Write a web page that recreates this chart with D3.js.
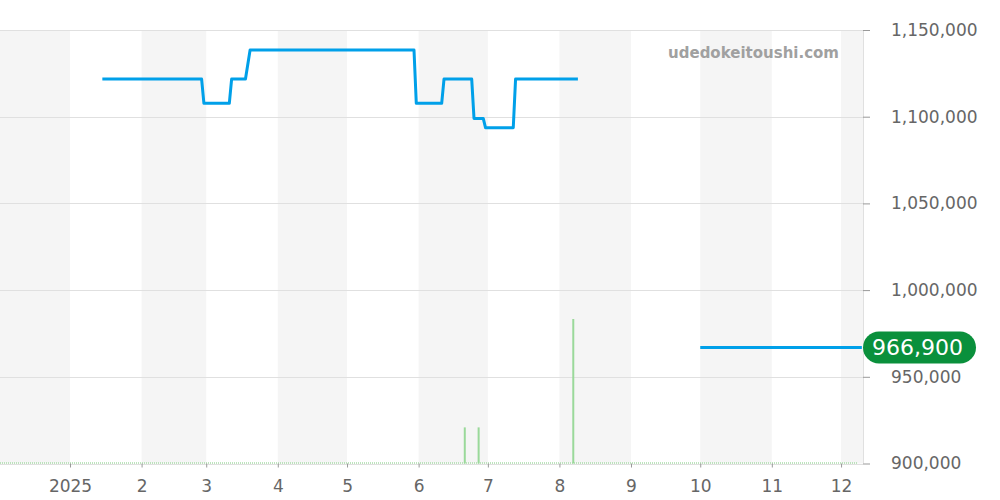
<!DOCTYPE html>
<html>
<head>
<meta charset="utf-8">
<script src="https://cdn.jsdelivr.net/npm/d3@7"></script>
<style>
  body { margin: 0; background: #fff; }
  svg { display: block; font-family: "DejaVu Sans", sans-serif; }
</style>
</head>
<body>
<div id="container"></div>
<script>
// price line (null = no data)
var priceDates = [
  "2025-01-15", "2025-02-27", "2025-02-28", "2025-03-11", "2025-03-12",
  "2025-03-18", "2025-03-20", "2025-05-30", "2025-05-31", "2025-06-11",
  "2025-06-12", "2025-06-24", "2025-06-25", "2025-06-29", "2025-06-30",
  "2025-07-12", "2025-07-13", "2025-08-09",
  "2025-08-10",
  "2025-10-01", "2025-12-10"
];
var priceValues = [
  1121700, 1121700, 1107700, 1107700, 1121700,
  1121700, 1138500, 1138500, 1107700, 1107700,
  1121700, 1121700, 1099000, 1099000, 1093600,
  1093600, 1121700, 1121700,
  null,
  966900, 966900
];

// listing counts (green spikes)
var volumeDates = ["2025-06-21", "2025-06-27", "2025-08-07"];
var volumeValues = [1, 1, 4];

var yTicks = [900000, 950000, 1000000, 1050000, 1100000, 1150000];
var lastPrice = 966900;

var width = 1000, height = 500;
var plotLeft = 0, plotRight = 863, plotTop = 30, plotBottom = 463.5;

var svg = d3.select("#container").append("svg")
  .attr("width", width)
  .attr("height", height);

var parse = d3.timeParse("%Y-%m-%d");

var x = d3.scaleTime()
  .domain([new Date(2024, 11, 1, 16), new Date(2025, 11, 10, 12)])
  .range([plotLeft, plotRight]);

var y = d3.scaleLinear()
  .domain([900000, 1150000])
  .range([plotBottom, plotTop]);

var yVol = d3.scaleLinear()
  .domain([0, 12])
  .range([plotBottom, plotTop]);

/* month bands */
var months = d3.timeMonth.range(d3.timeMonth.floor(x.domain()[0]), x.domain()[1]);
svg.append("g").selectAll("rect")
  .data(months.filter(function(d) { return d.getMonth() % 2 == 1; }))
  .enter().append("rect")
  .attr("x", function(d) { return Math.max(plotLeft, x(d)); })
  .attr("y", plotTop)
  .attr("width", function(d) {
    var end = Math.min(plotRight, x(d3.timeMonth.offset(d, 1)));
    return end - Math.max(plotLeft, x(d));
  })
  .attr("height", plotBottom - plotTop)
  .attr("fill", "#f5f5f5");

/* grid */
svg.append("g").selectAll("line")
  .data(yTicks)
  .enter().append("line")
  .attr("x1", plotLeft)
  .attr("x2", plotRight)
  .attr("y1", function(d) { return Math.round(y(d)) + 0.5; })
  .attr("y2", function(d) { return Math.round(y(d)) + 0.5; })
  .attr("stroke", "#e0e0e0");

svg.append("line")
  .attr("x1", plotRight + 0.5).attr("x2", plotRight + 0.5)
  .attr("y1", plotTop).attr("y2", plotBottom)
  .attr("stroke", "#e0e0e0");

/* watermark */
svg.append("text")
  .attr("x", 839)
  .attr("y", 58)
  .attr("text-anchor", "end")
  .attr("font-size", 15)
  .attr("font-weight", "bold")
  .attr("fill", "#a0a0a0")
  .text("udedokeitoushi.com");

/* volume baseline + spikes */
svg.append("line")
  .attr("x1", plotLeft).attr("x2", 857)
  .attr("y1", plotBottom - 0.5).attr("y2", plotBottom - 0.5)
  .attr("stroke", "#a8dca8")
  .attr("stroke-width", 1.5)
  .attr("stroke-dasharray", "1,1");

svg.append("g").selectAll("line")
  .data(volumeDates.map(function(d, i) { return { date: parse(d), v: volumeValues[i] }; }))
  .enter().append("line")
  .attr("x1", function(d) { return x(d.date); })
  .attr("x2", function(d) { return x(d.date); })
  .attr("y1", yVol(0))
  .attr("y2", function(d) { return yVol(d.v); })
  .attr("stroke", "#9ad99a")
  .attr("stroke-width", 2);

/* price line */
var points = priceDates.map(function(d, i) { return { date: parse(d), v: priceValues[i] }; });
var line = d3.line()
  .defined(function(d) { return d.v != null; })
  .x(function(d) { return x(d.date); })
  .y(function(d) { return y(d.v); });

svg.append("path")
  .datum(points)
  .attr("d", line)
  .attr("fill", "none")
  .attr("stroke", "#00a0e9")
  .attr("stroke-width", 3)
  .attr("stroke-linejoin", "round");

/* y axis */
var yAxis = svg.append("g")
  .attr("transform", "translate(" + plotRight + ",0)")
  .call(d3.axisRight(y).tickValues(yTicks).tickSize(7).tickPadding(21)
    .tickFormat(d3.format(",")));
yAxis.select(".domain").remove();
yAxis.selectAll(".tick line").attr("stroke", "#999");
yAxis.selectAll("text")
  .attr("font-family", "DejaVu Sans, sans-serif")
  .attr("font-size", 17)
  .attr("fill", "#666");

/* x axis */
var xAxis = svg.append("g")
  .attr("transform", "translate(0," + plotBottom + ")")
  .call(d3.axisBottom(x)
    .ticks(d3.timeMonth.every(1))
    .tickSize(4)
    .tickPadding(12)
    .tickFormat(function(d) {
      return d.getMonth() == 0 ? d3.timeFormat("%Y")(d) : (d.getMonth() + 1);
    }));
xAxis.select(".domain").remove();
xAxis.selectAll(".tick line").attr("stroke", "#999");
xAxis.selectAll("text")
  .attr("font-family", "DejaVu Sans, sans-serif")
  .attr("font-size", 17)
  .attr("fill", "#666");

/* last price badge */
var badge = svg.append("g")
  .attr("transform", "translate(" + plotRight + "," + y(lastPrice) + ")");
badge.append("rect")
  .attr("x", 0)
  .attr("y", -16)
  .attr("width", 113)
  .attr("height", 32)
  .attr("rx", 16)
  .attr("fill", "#0a903c");
badge.append("text")
  .attr("x", 9)
  .attr("y", 0)
  .attr("dy", "0.36em")
  .attr("font-size", 22)
  .attr("fill", "#fff")
  .text(d3.format(",")(lastPrice));
</script>
</body>
</html>
